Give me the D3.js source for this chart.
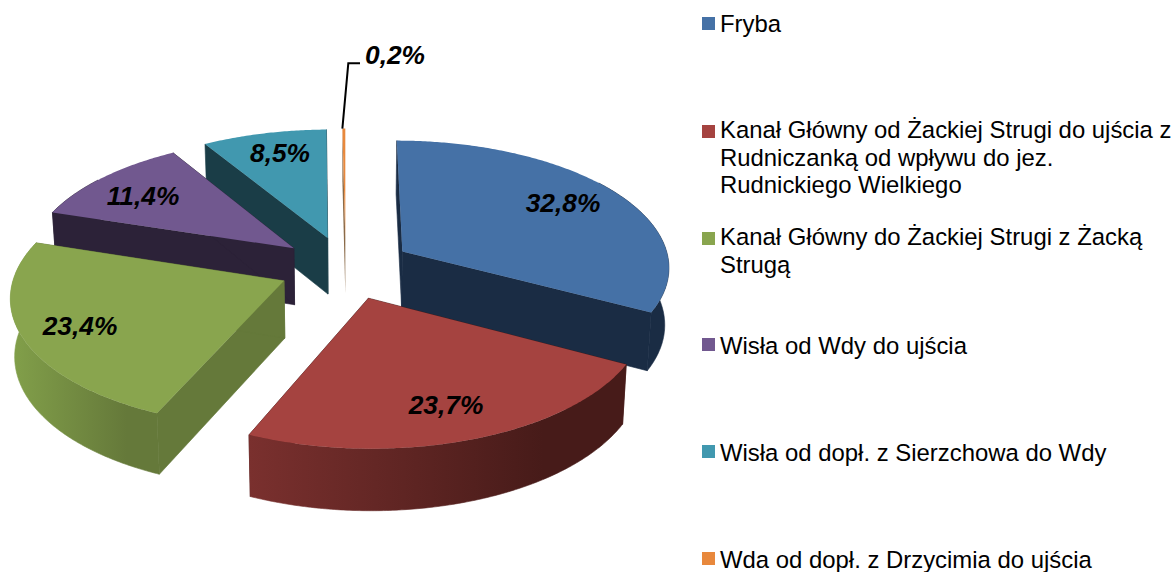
<!DOCTYPE html>
<html lang="pl">
<head>
<meta charset="utf-8">
<script src="https://cdn.jsdelivr.net/npm/d3@7"></script>
<style>
html,body{margin:0;padding:0;background:#fff;}
svg{display:block;}
text{font-family:"Liberation Sans",Arial,sans-serif;fill:#000;}
</style>
</head>
<body>
<div id="chart"></div>
<script>
// ---- data ----
const categories = ["Fryba",
  "Kanał Główny od Żackiej Strugi do ujścia z Rudniczanką od wpływu do jez. Rudnickiego Wielkiego",
  "Kanał Główny do Żackiej Strugi z Żacką Strugą",
  "Wisła od Wdy do ujścia",
  "Wisła od dopł. z Sierzchowa do Wdy",
  "Wda od dopł. z Drzycimia do ujścia"];
const values = [32.8, 23.7, 23.4, 11.4, 8.5, 0.2];
const valueLabels = ["32,8%", "23,7%", "23,4%", "11,4%", "8,5%", "0,2%"];
const legendLines = [
  ["Fryba"],
  ["Kanał Główny od Żackiej Strugi do ujścia z", "Rudniczanką od wpływu do jez.", "Rudnickiego Wielkiego"],
  ["Kanał Główny do Żackiej Strugi z Żacką", "Strugą"],
  ["Wisła od Wdy do ujścia"],
  ["Wisła od dopł. z Sierzchowa do Wdy"],
  ["Wda od dopł. z Drzycimia do ujścia"]
];

// ---- styling / layout ----
const topColors  = ["#4571a6", "#a54340", "#89a54e", "#71588f", "#4198af", "#e8883c"];
const wallStart  = ["#1a2c44", "#7a302e", "#82a04a", "#2c2238", "#1a3d47", "#7a4a20"];
const wallEnd    = ["#1a2c44", "#471b19", "#65793a", "#2c2238", "#1a3d47", "#c9b8a8"];
const sideColors = ["#1a2c44", "#471b19", "#65793a", "#2c2238", "#1a3d47", "#8a6a48"];
const seamWidth  = [0.6, 0.6, 0.6, 0.6, 0.6, 0];
const drawOrder  = [5, 4, 3, 0, 2, 1];
const labelCentre = [[563, 203], [446, 405], [80, 326], [143, 196], [280, 153], [395, 55]];
const legendSwatchY = [17, 125, 232, 338, 445, 552];
const legendBaseline = [32, 138, 245, 354, 461, 568];

const W = 1174, H = 572;
const cx = 345.7, cy = 267.5, R = 268, explode = 67;
const tiltK = 0.472, persp = 2418, depth = 57, shrinkX = 0.987, shrinkY = 0.978;

const svg = d3.select("#chart").append("svg").attr("width", W).attr("height", H);
const defs = svg.append("defs");

const arcs = d3.pie().sort(null).value(d => d)(values);

// model point (X right, Y away from viewer) -> screen, on top or bottom face
function project(X, Y, bottom) {
  const s = 1 / (1 + Y / persp);
  return [cx + X * s * (bottom ? shrinkX : 1),
          cy - Y * tiltK * s * (bottom ? shrinkY : 1) + (bottom ? depth * s : 0)];
}
function sliceGeom(a) {
  const mid = (a.startAngle + a.endAngle) / 2;
  const ox = explode * Math.sin(mid), oy = explode * Math.cos(mid);
  const rim = (t, b) => project(ox + R * Math.sin(t), oy + R * Math.cos(t), b);
  const apex = b => project(ox, oy, b);
  const n = Math.max(2, Math.ceil((a.endAngle - a.startAngle) / 0.01));
  const angles = d3.range(n + 1).map(i => a.startAngle + (a.endAngle - a.startAngle) * i / n);
  return {rim, apex, angles};
}
const line = d3.line().curve(d3.curveLinear);
const poly = pts => line(pts) + "Z";

const g = svg.append("g");
drawOrder.forEach(i => {
  const a = arcs[i], {rim, apex, angles} = sliceGeom(a);
  const grad = defs.append("linearGradient").attr("id", "w" + i);
  grad.append("stop").attr("offset", "0%").attr("stop-color", wallStart[i]);
  grad.append("stop").attr("offset", "78%").attr("stop-color", wallEnd[i]);
  grad.append("stop").attr("offset", "100%").attr("stop-color", wallEnd[i]);

  // radial walls
  [a.startAngle, a.endAngle].forEach(t => {
    g.append("path")
      .attr("d", poly([apex(false), rim(t, false), rim(t, true), apex(true)]))
      .attr("fill", sideColors[i])
      .attr("stroke", sideColors[i]).attr("stroke-width", seamWidth[i]);
  });
  // outer wall: the back part is hidden below the top face
  const front = angles.filter(t => Math.cos(t) < 0.6);
  if (front.length > 1) {
    const pts = front.map(t => rim(t, false)).concat(front.slice().reverse().map(t => rim(t, true)));
    const paint = i === 0 ? sideColors[0] : `url(#w${i})`;
    g.append("path").attr("d", poly(pts)).attr("fill", paint)
      .attr("stroke", paint).attr("stroke-width", seamWidth[i]);
  }
  // top face
  g.append("path")
    .attr("d", poly([apex(false)].concat(angles.map(t => rim(t, false)))))
    .attr("fill", topColors[i]);
});

// leader line of the smallest slice
(function () {
  const a = arcs[5], {rim} = sliceGeom(a);
  const top = rim(a.startAngle, false);
  svg.append("path")
    .attr("d", d3.line()([top, [348.3, 63.3], [360, 63.3]]))
    .attr("fill", "none").attr("stroke", "#000").attr("stroke-width", 2);
})();

// value labels
svg.append("g").selectAll("text").data(valueLabels).join("text")
  .attr("x", (d, i) => labelCentre[i][0])
  .attr("y", (d, i) => labelCentre[i][1])
  .attr("dy", "0.35em")
  .attr("text-anchor", "middle")
  .attr("font-size", 26.3)
  .attr("font-weight", "bold")
  .attr("font-style", "italic")
  .text(d => d);

// legend
const legend = svg.append("g").selectAll("g").data(categories).join("g");
legend.append("rect")
  .attr("x", 702).attr("y", (d, i) => legendSwatchY[i])
  .attr("width", 13).attr("height", 13)
  .attr("fill", (d, i) => topColors[i]);
legend.append("text")
  .attr("font-size", 23.9)
  .each(function (d, i) {
    d3.select(this).selectAll("tspan").data(legendLines[i]).join("tspan")
      .attr("x", 720)
      .attr("y", (l, j) => legendBaseline[i] + j * 27.6)
      .text(l => l);
  });
</script>
</body>
</html>
